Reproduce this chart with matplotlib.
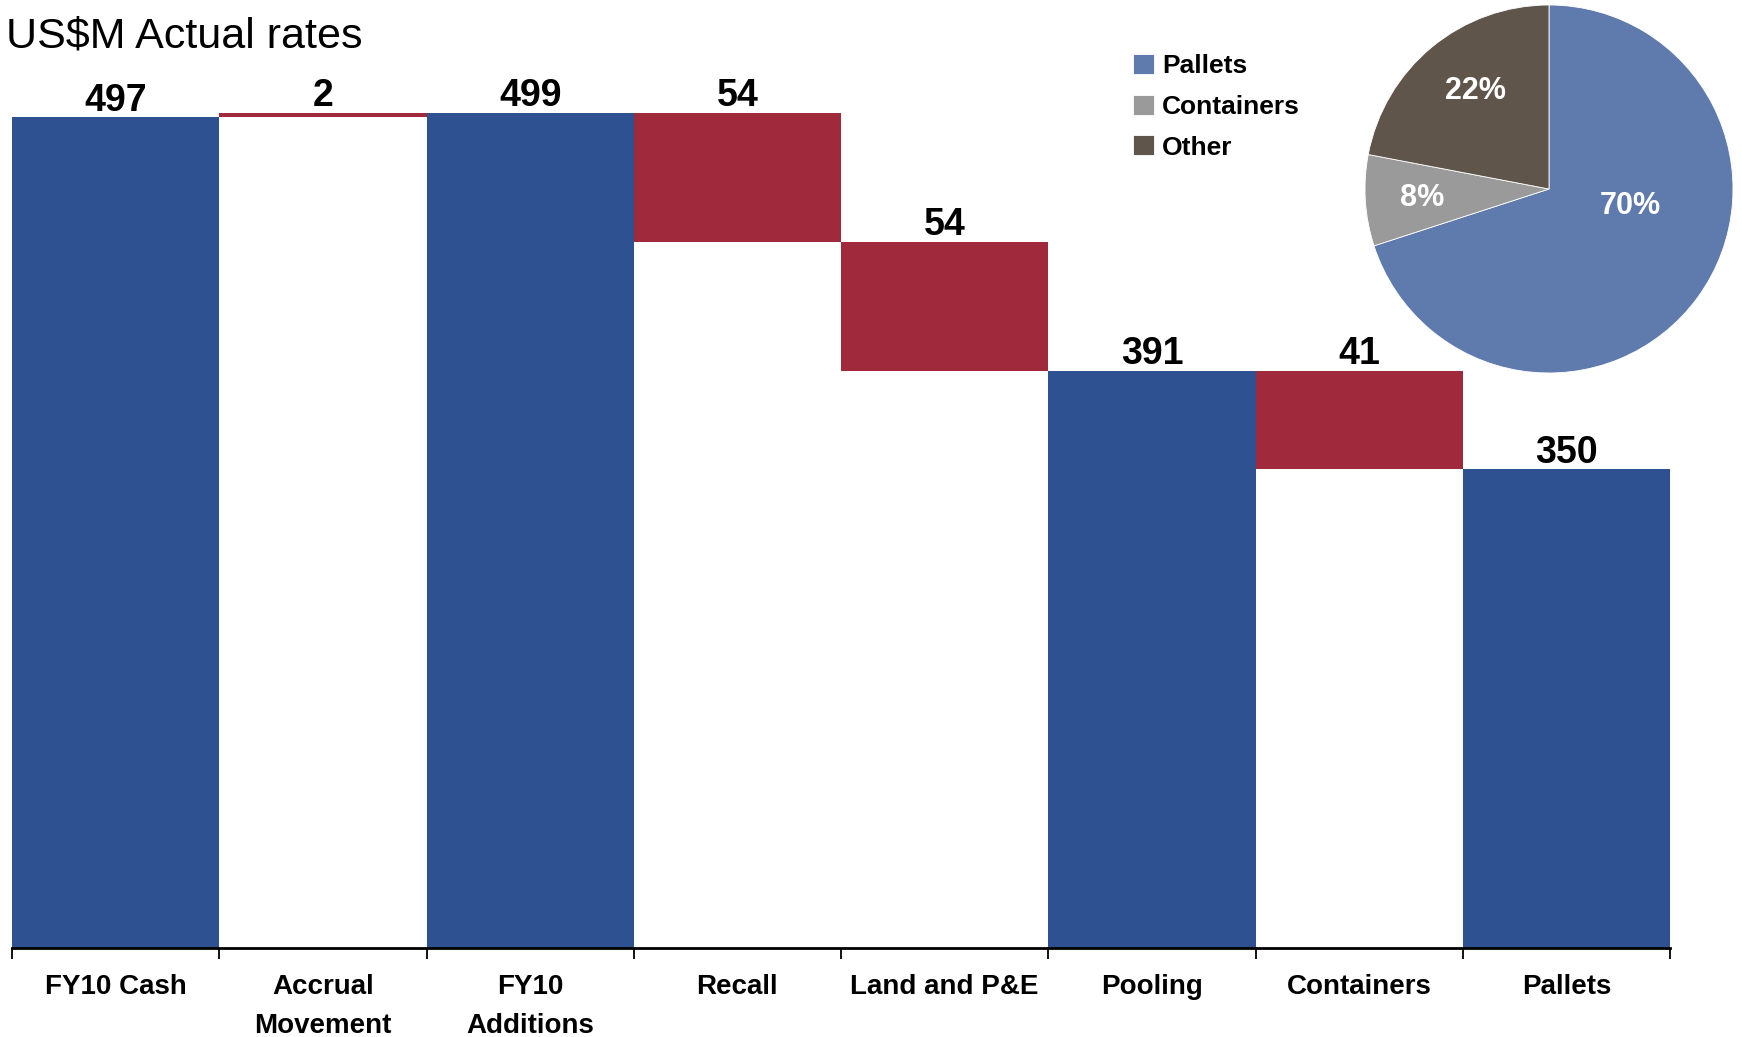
import matplotlib
matplotlib.use("Agg")
import matplotlib.pyplot as plt
import numpy as np

plt.rcParams["font.family"] = ["Liberation Sans", "DejaVu Sans"]

# Waterfall data (US$M)
categories = ["FY10 Cash", "Accrual\nMovement", "FY10\nAdditions", "Recall",
              "Land and P&E", "Pooling", "Containers", "Pallets"]
values = [497, 2, 499, -54, -54, 391, -41, 350]
is_total = [True, False, True, False, False, True, False, True]
labels = ["497", "2", "499", "54", "54", "391", "41", "350"]

# Pie data
pie_names = ["Pallets", "Containers", "Other"]
pie_share = [70, 8, 22]

BLUE = "#2D5191"
RED = "#A0293B"
pie_colors = ["#5F7BAD", "#9A9A9A", "#5F554B"]

# Work out bottoms / heights of the floating bars
bottoms, heights, colors = [], [], []
level = 0
for v, tot in zip(values, is_total):
    if tot:
        bottoms.append(0)
        heights.append(v)
        colors.append(BLUE)
        level = v
    else:
        if v >= 0:
            bottoms.append(level)
            heights.append(v)
        else:
            bottoms.append(level + v)
            heights.append(-v)
        level = level + v
        colors.append(RED)

W, H = 1742, 1037
fig = plt.figure(figsize=(W / 100, H / 100), dpi=100)

ax = fig.add_axes([12 / W, 89 / H, 1658 / W, 948 / H])
x = np.arange(len(categories))
ax.bar(x, heights, bottom=bottoms, width=1.0, color=colors, linewidth=0)
ax.set_xlim(-0.5, len(categories) - 0.5)
ax.set_ylim(150, 546)

for xi, b, h, lab in zip(x, bottoms, heights, labels):
    ax.annotate(lab, (xi, b + h), xytext=(0, -1), textcoords="offset points",
                ha="center", va="bottom", fontsize=27, fontweight="bold")

for s in ["top", "right", "left"]:
    ax.spines[s].set_visible(False)
ax.spines["bottom"].set_linewidth(2)
ax.set_yticks([])
ax.set_xticks(x)
ax.set_xticklabels(categories, fontsize=20, fontweight="bold", linespacing=1.65)
ax.set_xticks(np.arange(len(categories) + 1) - 0.5, minor=True)
ax.tick_params(axis="x", which="major", length=0, pad=19)
ax.tick_params(axis="x", which="minor", length=8, width=1.3, color="black")

fig.text(6 / W, 1 - 36 / H, "US$M Actual rates", fontsize=31, va="center", ha="left")

# Pie inset
r = 184
cx, cy = 1549, 189
pax = fig.add_axes([(cx - r) / W, (H - cy - r) / H, 2 * r / W, 2 * r / H])
wedges, _ = pax.pie(pie_share, colors=pie_colors, startangle=90, counterclock=False,
                    wedgeprops=dict(linewidth=0.6, edgecolor="white"))
pax.set_xlim(-1.0, 1.0)
pax.set_ylim(-1.0, 1.0)
pax.set_aspect("equal")
label_pos = [(0.44, -0.09), (-0.69, -0.05), (-0.40, 0.53)]
for (px, py), pct in zip(label_pos, pie_share):
    pax.text(px, py, f"{pct}%", color="white", fontsize=22, fontweight="bold",
             ha="center", va="center")

fig.legend(wedges, pie_names, loc="upper left", bbox_to_anchor=(1133 / W, 1 - 54 / H),
           frameon=False, prop=dict(weight="bold", size=19),
           handlelength=0.8, handleheight=0.8, handletextpad=0.3,
           labelspacing=0.62, borderpad=0, borderaxespad=0)

fig.savefig("out.png", dpi=100)
